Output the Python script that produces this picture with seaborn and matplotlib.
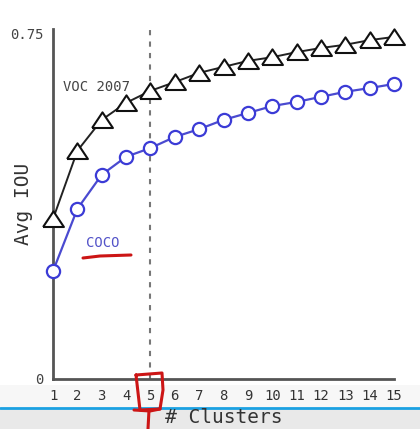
import numpy as np
import pandas as pd
import matplotlib
matplotlib.use("Agg")
import matplotlib.pyplot as plt
from matplotlib.lines import Line2D
from matplotlib.patches import Rectangle
import seaborn as sns

# data
clusters = list(range(1, 16))
voc_iou = [0.347, 0.495, 0.562, 0.599, 0.625, 0.644, 0.664, 0.677,
           0.690, 0.698, 0.709, 0.718, 0.725, 0.735, 0.742]
coco_iou = [0.234, 0.369, 0.443, 0.482, 0.501, 0.525, 0.542, 0.562,
            0.577, 0.592, 0.601, 0.612, 0.623, 0.631, 0.640]
chosen_k = 5

df = pd.DataFrame({"k": clusters, "voc": voc_iou, "coco": coco_iou})

sns.set_style("white")
plt.rcParams['font.family'] = ['DejaVu Sans Mono', 'DejaVu Sans']

fig = plt.figure(figsize=(4.2, 4.29), dpi=100)
ax = fig.add_axes([0.1262, 0.1166, 0.812, 0.8167])

# background bits of the screenshot (player bar)
fig.patches.append(Rectangle((0, 0), 1, 0.047, transform=fig.transFigure,
                             facecolor='#e9e9e9', edgecolor='none', zorder=-2))
fig.patches.append(Rectangle((0, 0.047), 1, 0.055, transform=fig.transFigure,
                             facecolor='#f7f7f7', edgecolor='none', zorder=-2))
fig.lines.append(Line2D([0, 1], [0.049, 0.049], transform=fig.transFigure,
                        color='#1ba1e2', lw=2, zorder=-1))

ax.axvline(chosen_k, color='#777777', lw=1.5, ls=(0, (2.5, 3)), zorder=1)

tri = [(-1, -0.72), (1, -0.72), (0, 0.78), (-1, -0.72)]
sns.lineplot(data=df, x='k', y='voc', ax=ax, color='#222222', lw=1.4,
             marker=tri, markersize=15, markerfacecolor='white',
             markeredgecolor='#111111', markeredgewidth=1.5, zorder=3,
             clip_on=False)
sns.lineplot(data=df, x='k', y='coco', ax=ax, color='#4a4ad0', lw=1.6,
             marker='o', markersize=9.5, markerfacecolor='white',
             markeredgecolor='#3b3bd6', markeredgewidth=1.6, zorder=3,
             clip_on=False)

ax.set_xlim(1, 15)
ax.set_ylim(0, 0.76)
ax.set_xticks(clusters)
ax.set_yticks([0, 0.75])
ax.set_yticklabels(['0', '0.75'])
ax.tick_params(length=0, labelsize=10, colors='#444444', pad=7)
ax.tick_params(axis='x', labelcolor='#333333')
for s in ['top', 'right']:
    ax.spines[s].set_visible(False)
for s in ['left', 'bottom']:
    ax.spines[s].set_color('#555555')
    ax.spines[s].set_linewidth(2)

ax.set_xlabel('# Clusters', fontsize=14, color='#333333', labelpad=4)
ax.set_ylabel('Avg IOU', fontsize=14, color='#333333')
ax.yaxis.set_label_coords(-0.06, 0.5)

ax.text(1.4, 0.633, 'VOC 2007', fontsize=10, color='#444444', va='center')
ax.text(2.35, 0.295, 'COCO', fontsize=10, color='#5252c8', va='center')

# red hand-drawn marks
red = '#cc1515'
def fl(xs, ys):
    fig.lines.append(Line2D(np.array(xs) / 420, 1 - np.array(ys) / 429,
                            transform=fig.transFigure, color=red, lw=2.2,
                            solid_capstyle='round', solid_joinstyle='round'))
fl([83, 100, 131], [258, 256, 255])
fl([136, 162, 163, 160, 140, 136], [375, 373, 390, 409, 410, 375])
fl([134, 150, 160], [410, 411, 409])
fl([149, 148], [410, 429])

fig.savefig('out.png', dpi=100)
